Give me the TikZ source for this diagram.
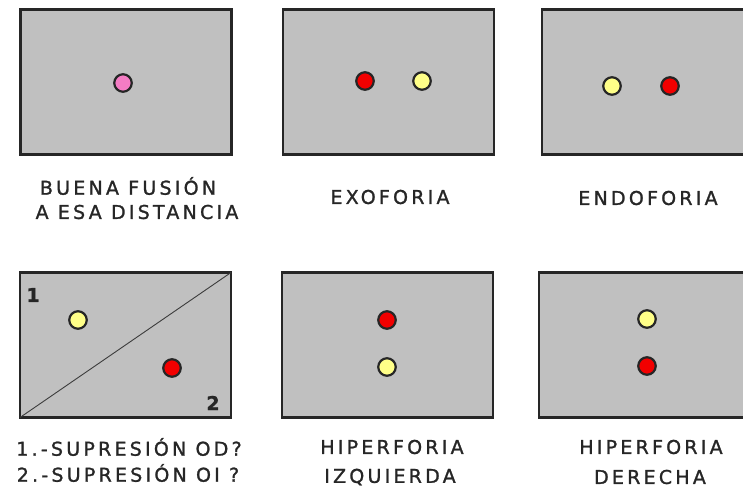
\documentclass[tikz,border=0pt]{standalone}
\usepackage{fontspec}
\setmainfont{DejaVu Sans}[LetterSpace=17, FakeBold=1.3]
\definecolor{panelgray}{HTML}{C0C0C0}
\definecolor{dotpink}{HTML}{F47CC4}
\definecolor{dotred}{HTML}{F20000}
\definecolor{dotyellow}{HTML}{FFFF88}
\definecolor{ink}{HTML}{262626}
\begin{document}
\begin{tikzpicture}[x=1pt,y=-1pt,
  panel/.style={draw=ink, line width=2.4pt, fill=panelgray, outer sep=0pt,
    minimum width=211pt, minimum height=145pt, inner sep=0pt},
  dot/.style={circle, draw=ink, line width=2.2pt, minimum size=17.5pt, inner sep=0pt},
  caption/.style={font=\fontsize{19}{22}\selectfont, text=ink, inner sep=0pt, anchor=center},
  corner/.style={font=\fontsize{19}{22}\selectfont\bfseries, text=ink, inner sep=0pt}
]
\useasboundingbox (0,0) rectangle (743,491);
\clip (0,0) rectangle (743,491);

% top row
\node[panel] (p1) at (126,82) {};
\node[panel] (p2) at (388.3,82) {};
\node[panel] (p3) at (647.5,82) {};
% bottom row
\node[panel] (p4) at (125.5,345) {};
\node[panel] (p5) at (387.5,345) {};
\node[panel] (p6) at (644.5,345) {};

% good fusion
\node[dot, fill=dotpink] (f1) at (123,83) {};
% exophoria
\node[dot, fill=dotred] (x1) at (365,81) {};
\node[dot, fill=dotyellow] (x2) at (422,81) {};
% endophoria
\node[dot, fill=dotyellow] (e1) at (612,86) {};
\node[dot, fill=dotred] (e2) at (670,86) {};

% suppression
\draw[draw=ink!90, line width=0.9pt] (p4.south west) -- (p4.north east);
\node[corner] (n1) at (33,295) {1};
\node[corner] (n2) at (213,403) {2};
\node[dot, fill=dotyellow] (s1) at (78,320) {};
\node[dot, fill=dotred] (s2) at (172,368) {};

% left hyperphoria
\node[dot, fill=dotred] (l1) at (387,320) {};
\node[dot, fill=dotyellow] (l2) at (387,367) {};
% right hyperphoria
\node[dot, fill=dotyellow] (r1) at (647,319) {};
\node[dot, fill=dotred] (r2) at (647,366) {};

% captions
\node[caption] (c1a) at (128,186) {BUENA FUSIÓN};
\node[caption] (c1b) at (137,212) {A ESA DISTANCIA};
\node[caption] (c2) at (390,197) {EXOFORIA};
\node[caption] (c3) at (648,198) {ENDOFORIA};
\node[caption] (c4a) at (129,447) {1.-SUPRESIÓN OD?};
\node[caption] (c4b) at (128,473) {2.-SUPRESIÓN OI ?};
\node[caption] (c5a) at (392,447) {HIPERFORIA};
\node[caption] (c5b) at (390,477) {IZQUIERDA};
\node[caption] (c6a) at (651,447) {HIPERFORIA};
\node[caption] (c6b) at (650,477) {DERECHA};
\end{tikzpicture}
\end{document}
